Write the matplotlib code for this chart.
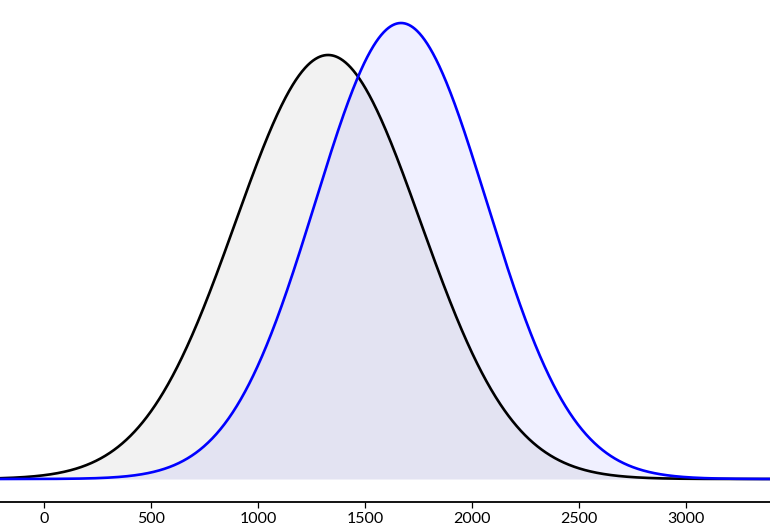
import numpy as np
import matplotlib
matplotlib.use("Agg")
import matplotlib.pyplot as plt

# Distribution parameters
series_names = ["black", "blue"]
means = [1327, 1668]
stds = [432, 401]
peaks = [424, 456]          # relative peak heights
line_colors = ["#000000", "#0000ff"]
fill_alphas = [0.05, 0.06]
tick_values = [0, 500, 1000, 1500, 2000, 2500, 3000]
x_range = [-206, 3392]

fig = plt.figure(figsize=(7.70, 5.26), dpi=100)
ax = fig.add_axes([0, 24 / 526, 1, 502 / 526])

x = np.linspace(x_range[0], x_range[1], 1500)
for m, s, p, c, a in zip(means, stds, peaks, line_colors, fill_alphas):
    y = p * np.exp(-0.5 * ((x - m) / s) ** 2)
    ax.fill_between(x, 0, y, color=c, alpha=a, linewidth=0)
    ax.plot(x, y, color=c, linewidth=1.9, solid_capstyle="round")

ax.set_xlim(x_range)
ax.set_ylim(-23, 479)
ax.set_xticks(tick_values)
ax.set_xticklabels([str(v) for v in tick_values], fontfamily="Lato", fontsize=11.5)
ax.set_yticks([])
for side in ["top", "left", "right"]:
    ax.spines[side].set_visible(False)
ax.spines["bottom"].set_linewidth(1.3)
ax.tick_params(axis="x", length=4, width=0.9, pad=3, colors="black")

fig.savefig("out.png", dpi=100)
